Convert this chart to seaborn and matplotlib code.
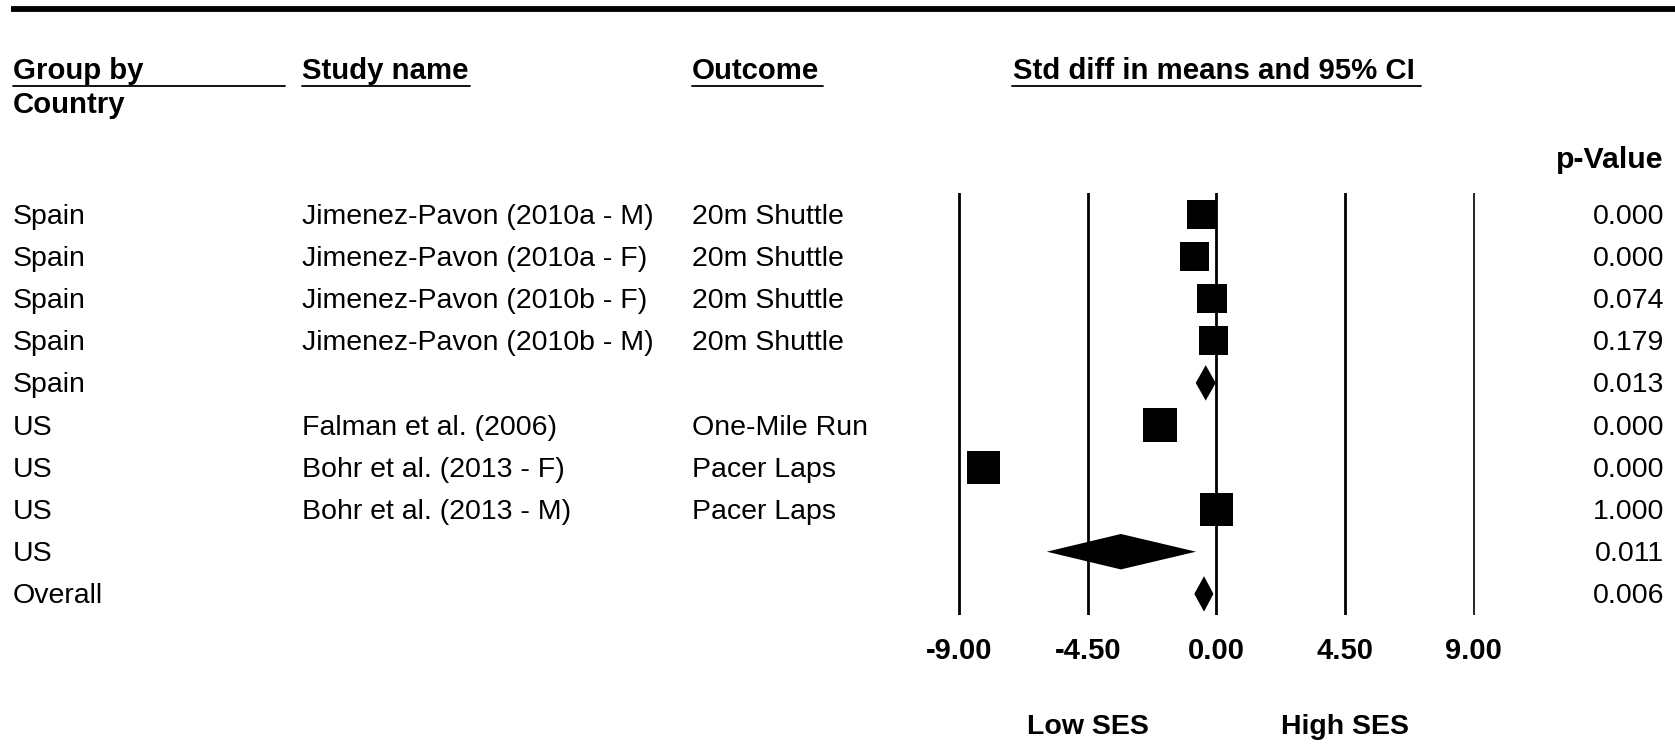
import matplotlib
matplotlib.use("Agg")
import matplotlib.pyplot as plt
import matplotlib.transforms as mtransforms
from matplotlib.lines import Line2D
import numpy as np
import pandas as pd
import seaborn as sns

# ---- data -------------------------------------------------------------
group = ["Spain", "Spain", "Spain", "Spain", "Spain",
         "US", "US", "US", "US", "Overall"]
study = ["Jimenez-Pavon (2010a - M)", "Jimenez-Pavon (2010a - F)",
         "Jimenez-Pavon (2010b - F)", "Jimenez-Pavon (2010b - M)", "",
         "Falman et al. (2006)", "Bohr et al. (2013 - F)",
         "Bohr et al. (2013 - M)", "", ""]
outcome = ["20m Shuttle", "20m Shuttle", "20m Shuttle", "20m Shuttle", "",
           "One-Mile Run", "Pacer Laps", "Pacer Laps", "", ""]
effect = [-0.52, -0.77, -0.15, -0.10, -0.37, -1.97, -8.15, 0.00, -3.34, -0.43]
lower = [None, None, None, None, -0.72, None, None, None, -5.93, -0.77]
upper = [None, None, None, None, -0.02, None, None, None, -0.71, -0.10]
is_summary = [False, False, False, False, True, False, False, False, True, True]
weight = [11.0, 11.0, 11.0, 11.0, None, 15.0, 14.5, 14.0, None, None]
p_value = [0.000, 0.000, 0.074, 0.179, 0.013, 0.000, 0.000, 1.000, 0.011, 0.006]

x_ticks = [-9.0, -4.5, 0.0, 4.5, 9.0]
x_tick_labels = ["-9.00", "-4.50", "0.00", "4.50", "9.00"]

df = pd.DataFrame({
    "group": group, "study": study, "outcome": outcome,
    "effect": effect, "lower": lower, "upper": upper,
    "summary": is_summary, "weight": weight, "p": p_value,
})
df["row"] = np.arange(len(df))

# ---- figure / layout --------------------------------------------------
W, H, DPI = 1675, 744, 100
sns.set_theme(style="white")
plt.rcParams["font.family"] = ["Liberation Sans", "DejaVu Sans"]

fig = plt.figure(figsize=(W / DPI, H / DPI), dpi=DPI)
fig.patch.set_facecolor("white")


def fx(px):
    return px / W


def fy(py):
    return 1 - py / H


# forest panel: x = effect size, y = row index
x0_px, unit_px = 1216.3, 28.58
xl, xr = -9.5, 9.5
top_px, bot_px = 193, 615
ax = fig.add_axes([fx(x0_px + xl * unit_px), fy(bot_px),
                   (xr - xl) * unit_px / W, (bot_px - top_px) / H])
ax.set_xlim(xl, xr)
ax.set_ylim(len(df) - 0.5, -0.5)
for s in ax.spines.values():
    s.set_visible(False)
ax.set_facecolor("white")
ax.set_yticks([])
ax.set_xticks(x_ticks)
ax.set_xticklabels(x_tick_labels, fontsize=21, fontweight="bold")
ax.tick_params(axis="x", length=0, pad=16, colors="black")
ax.grid(False)

for t in x_ticks:
    ax.axvline(t, color="black", lw=1.2 if t == 9.0 else 2.0, zorder=1)

# individual studies: squares sized by weight
studies = df[~df["summary"]]
sns.scatterplot(data=studies, x="effect", y="row", size="weight",
                sizes=(440, 600), size_norm=(11.0, 15.0), marker="s",
                color="black", edgecolor="none", linewidth=0,
                legend=False, ax=ax, zorder=3)
ax.set_xlabel("")
ax.set_ylabel("")

# summary estimates: diamonds spanning the confidence interval
half_h = 0.42
for _, r in df[df["summary"]].iterrows():
    ax.fill([r["lower"], r["effect"], r["upper"], r["effect"]],
            [r["row"], r["row"] - half_h, r["row"], r["row"] + half_h],
            color="black", lw=0, zorder=3)

# ---- table columns ----------------------------------------------------
row_tf = (mtransforms.blended_transform_factory(fig.transFigure, ax.transData)
          + mtransforms.ScaledTranslation(0, -2.5 / DPI, fig.dpi_scale_trans))
txt = dict(fontsize=20.5, color="black", va="center", transform=row_tf)
for _, r in df.iterrows():
    fig.text(fx(13), r["row"], r["group"], ha="left", **txt)
    fig.text(fx(302), r["row"], r["study"], ha="left", **txt)
    fig.text(fx(692), r["row"], r["outcome"], ha="left", **txt)
    fig.text(fx(1664), r["row"], f"{r['p']:.3f}", ha="right", **txt)

# ---- headers ----------------------------------------------------------
hdr = dict(fontsize=21.2, fontweight="bold", color="black", va="center")
fig.text(fx(13), fy(71), "Group by", ha="left", **hdr)
fig.text(fx(13), fy(105), "Country", ha="left", **hdr)
fig.text(fx(302), fy(71), "Study name", ha="left", **hdr)
fig.text(fx(692), fy(71), "Outcome", ha="left", **hdr)
fig.text(fx(1013), fy(71), "Std diff in means and 95% CI", ha="left", **hdr)
fig.text(fx(1663), fy(160.5), "p-Value", ha="right",
         **{**hdr, "fontsize": 21.8})

for a, b in [(13, 285), (302, 470), (692, 823), (1012, 1421)]:
    fig.add_artist(Line2D([fx(a), fx(b)], [fy(85.5), fy(85.5)],
                          color="black", lw=1.3, transform=fig.transFigure))

# heavy rule across the top
fig.add_artist(Line2D([fx(11), fx(W)], [fy(8.5), fy(8.5)],
                      color="black", lw=4.2, transform=fig.transFigure,
                      solid_capstyle="butt"))

# direction labels under the axis
dir_tf = mtransforms.blended_transform_factory(ax.transData, fig.transFigure)
dir_style = dict(fontsize=20.5, fontweight="bold", color="black",
                 ha="center", va="center", transform=dir_tf)
fig.text(-4.5, fy(727), "Low SES", **dir_style)
fig.text(4.5, fy(727), "High SES", **dir_style)

fig.savefig("out.png", dpi=DPI, facecolor="white")
